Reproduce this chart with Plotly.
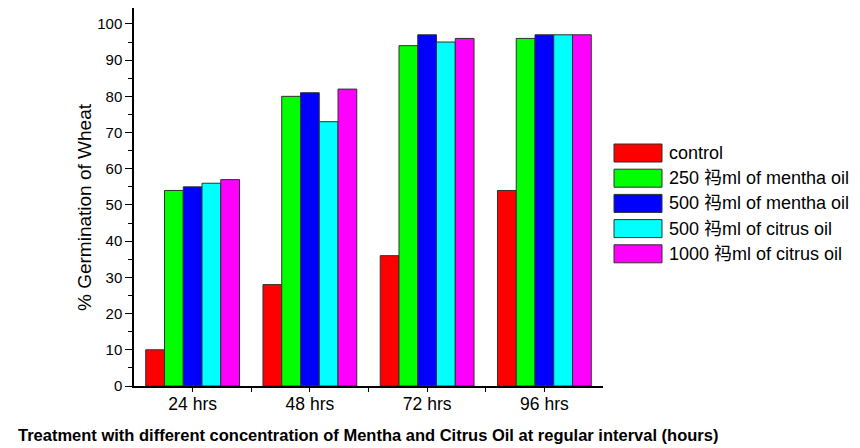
import plotly.graph_objects as go

categories = ["24 hrs", "48 hrs", "72 hrs", "96 hrs"]
series_names = ["control", "250 祃ml of mentha oil", "500 祃ml of mentha oil",
                "500 祃ml of citrus oil", "1000 祃ml of citrus oil"]
control = [10, 28, 36, 54]
mentha_250 = [54, 80, 94, 96]
mentha_500 = [55, 81, 97, 97]
citrus_500 = [56, 73, 95, 97]
citrus_1000 = [57, 82, 96, 97]
values = [control, mentha_250, mentha_500, citrus_500, citrus_1000]
colors = ["#ff0000", "#00ff00", "#0000ff", "#00ffff", "#ff00ff"]

FONT = "Liberation Sans, Arial, Noto Sans CJK SC, sans-serif"
BOLD = "Liberation Sans, Arial, sans-serif"

xpos = list(range(len(categories)))

fig = go.Figure()
for name, vals, c in zip(series_names, values, colors):
    fig.add_trace(go.Bar(x=xpos, y=vals, name=name, marker_color=c,
                         marker_line=dict(color="#303030", width=1),
                         showlegend=False))

# figure is offset by the 8px page margin; work in figure pixel coordinates
FW, FH = 852, 440
L, R, T, B = 126, 595, 0, 378
W, H = R - L, B - T
def px(x):
    return (x - L) / W
def py(y):
    return (B - y) / H

shapes = []
annotations = []
for i, (name, c) in enumerate(zip(series_names, colors)):
    yc = 145 + i * 25.2
    shapes.append(dict(type="rect", xref="paper", yref="paper",
                       x0=px(606), x1=px(654), y0=py(yc + 9), y1=py(yc - 9),
                       fillcolor=c, line=dict(color="#303030", width=1)))
    annotations.append(dict(text=name, xref="paper", yref="paper", x=px(659), y=py(yc),
                            xanchor="left", yanchor="middle", showarrow=False,
                            font=dict(size=18, color="#000000", family=FONT)))

annotations.append(dict(text="<b>Treatment with different concentration of Mentha and Citrus Oil at regular interval (hours)</b>",
                        xref="paper", yref="paper", x=px(359.5), y=py(427),
                        xanchor="center", yanchor="middle", showarrow=False,
                        font=dict(size=16.5, color="#000000", family=BOLD)))
annotations.append(dict(text="% Germination of Wheat", textangle=-90,
                        xref="paper", yref="paper", x=px(76), y=py(199),
                        xanchor="center", yanchor="middle", showarrow=False,
                        font=dict(size=19, color="#000000", family=FONT)))

fig.update_layout(
    width=FW, height=FH,
    margin=dict(l=L, r=FW - R, t=T, b=FH - B, pad=0),
    paper_bgcolor="white", plot_bgcolor="white",
    barmode="group", bargap=0.2, bargroupgap=0,
    font=dict(family=FONT, color="#000000", size=15),
    shapes=shapes, annotations=annotations,
    xaxis=dict(showline=True, linecolor="black", linewidth=1.5, ticks="outside",
               ticklen=4, tickcolor="black", showgrid=False, range=[-0.5, 3.5],
               tickmode="array", tickvals=xpos, ticktext=categories,
               tickfont=dict(size=17.5), zeroline=False, ticklabelstandoff=-3,
               minor=dict(ticks="outside", ticklen=4, tickcolor="black",
                          tickmode="array", tickvals=[0.5, 1.5, 2.5], showgrid=False)),
    yaxis=dict(showline=True, linecolor="black", linewidth=1.5, ticks="outside",
               ticklen=7, tickcolor="black", showgrid=False, range=[0, 104.4],
               dtick=10, tick0=0, tickfont=dict(size=15), zeroline=False,
               minor=dict(ticks="outside", ticklen=4, dtick=5, tickcolor="black", showgrid=False)),
)

fig.write_html("out.html")
